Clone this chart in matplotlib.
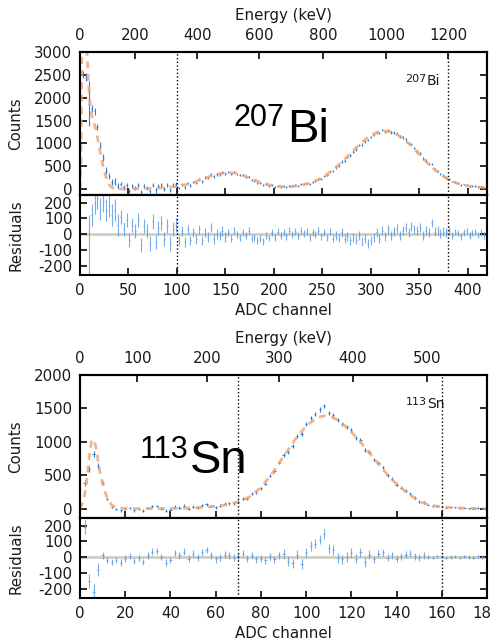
import numpy as np
import matplotlib.pyplot as plt

plt.rcParams['font.family'] = ['DejaVu Sans']
plt.rcParams['axes.unicode_minus'] = False

# ---------------- 207Bi (one point every 3 ADC channels) ----------------
bi_ch = np.arange(0, 421, 3)
bi_counts = [
    1700, 2500, 2450, 1870, 1760, 1700, 1360, 950, 690, 405,
    280, 157, 162, 66, 115, 35, 95, -35, 65, 27,
    98, -61, 61, 31, -47, 95, -31, 61, 94, 0,
    85, -18, 80, 118, 24, 100, 42, 135, 85, 155,
    135, 219, 173, 247, 240, 323, 275, 324, 326, 368,
    340, 367, 324, 371, 338, 300, 312, 271, 274, 197,
    180, 136, 122, 83, 100, 70, 90, 48, 77, 46,
    60, 38, 76, 59, 81, 65, 104, 101, 129, 112,
    160, 175, 230, 225, 290, 305, 385, 400, 475, 510,
    600, 620, 700, 740, 820, 870, 960, 980, 1045, 1070,
    1140, 1187, 1244, 1231, 1288, 1250, 1292, 1240, 1235, 1225,
    1150, 1130, 1090, 1010, 985, 900, 825, 780, 665, 625,
    550, 553, 441, 395, 325, 295, 250, 220, 165, 162,
    125, 90, 100, 95, 55, 63, 65, 38, 49, 24,
    30,
]
bi_resid = [
    -1500, -1500, -1100, -380, 120, 200, 230, 160, 210, 150,
    180, 120, 150, 60, 110, 30, 90, -40, 60, 20,
    90, -70, 50, 20, -60, 80, -50, 40, 70, -30,
    50, -60, 30, 60, -40, 20, -50, 30, -40, 10,
    -30, 30, -40, 10, -20, 40, -30, 0, -10, 20,
    -20, 10, -30, 20, 0, -20, 10, -10, 20, -30,
    -20, -40, -30, -45, -10, -25, 10, -20, 15, -10,
    10, -15, 20, 0, 15, -10, 20, 5, 15, -20,
    10, -5, 20, -15, 10, -20, 15, -30, -10, -25,
    10, -30, -15, -40, -20, -35, -10, -45, -30, -60,
    -40, -20, 10, -30, 20, -15, 30, -10, 15, 35,
    -10, 25, 40, 10, 50, 30, 20, 40, -10, 20,
    10, 70, 15, 25, 5, 15, 10, 20, -10, 15,
    5, -15, 10, 20, -10, 5, 15, -5, 10, -10,
    0,
]
# error bar half-lengths, estimated region by region
bi_err = [80, 80, 80, 500] + [70] * 10 + [45] * 20 + [30] * 17 + [22] * 37 + [28] * 40 + [20] * 13
bi_fit_ch = [0, 1, 2, 3, 4, 5, 6, 7, 8, 9, 10, 11, 12, 14, 16, 18, 20, 22, 24, 26, 28, 30,
             32, 34, 36, 40, 50, 60, 70, 80, 90, 100, 110, 120, 130, 140, 150, 160, 170, 180,
             190, 200, 210, 220, 230, 240, 250, 260, 270, 280, 290, 300, 310, 320, 330, 340,
             350, 360, 370, 380, 390, 400, 410, 420]
bi_fit = [0, 600, 3200, 4000, 4200, 4000, 3600, 3050, 2650, 2250, 1950, 1750, 1620, 1480,
          1330, 1130, 900, 680, 480, 320, 190, 100, 50, 25, 12, 5, 5, 8, 12, 20, 35, 60, 100,
          165, 245, 320, 360, 350, 290, 200, 120, 70, 50, 60, 90, 150, 250, 400, 590, 800,
          1010, 1180, 1270, 1260, 1160, 980, 760, 540, 350, 210, 120, 70, 45, 30]
bi_window = [100, 380]
bi_e_labels = [0, 200, 400, 600, 800, 1000, 1200]
bi_e_pos = [0, 57, 121, 185, 251, 316, 380]   # channel where each energy tick sits

# ---------------- 113Sn (one point every 2 ADC channels) ----------------
sn_ch = np.arange(0, 181, 2)
sn_counts = [
    55, 390, 600, 820, 640, 390, 150, 30, 0, -23,
    -2, 12, -19, 1, -25, 15, 40, 46, 6, -28,
    -12, 34, 21, 47, 4, 35, 19, 53, 73, 44,
    25, 50, 75, 83, 84, 110, 155, 155, 225, 250,
    310, 380, 495, 560, 690, 800, 855, 940, 1085, 1115,
    1270, 1360, 1425, 1485, 1535, 1435, 1410, 1330, 1275, 1225,
    1175, 1065, 1028, 885, 845, 735, 690, 620, 505, 450,
    360, 320, 275, 230, 165, 105, 98, 66, 45, 45,
    35, 20, 22, 23, 9, 17, 10, 4, 13, 7,
    5,
]
sn_resid = [
    55, 190, -150, -220, -80, 10, -20, -30, -20, -35,
    -10, 5, -25, -5, -30, 10, 35, 40, 0, -35,
    -20, 25, 10, 35, -10, 20, 0, 30, 45, 10,
    -15, 0, 15, 10, -5, 5, 20, -10, 10, -15,
    -10, -20, 5, -15, 10, 20, -25, -40, 15, -45,
    30, 70, 85, 110, 145, 55, 45, -5, -15, 0,
    25, -10, 30, -30, 15, -15, 20, 30, -5, 10,
    -10, 5, 15, 20, 5, -5, 10, 0, -5, 5,
    5, -5, 0, 5, -5, 5, 0, -5, 5, 0,
    0,
]
sn_err = [25, 45, 45, 50, 40] + [20] * 20 + [22] * 20 + [30] * 20 + [22] * 12 + [10] * 14
sn_fit_ch = [0, 1, 2, 3, 4, 5, 6, 7, 8, 9, 10, 11, 12, 13, 14, 16, 20, 30, 40, 50, 55, 60,
             65, 70, 75, 80, 85, 90, 95, 100, 105, 108, 111, 115, 120, 125, 130, 135, 140,
             145, 150, 155, 160, 165, 170, 175, 180]
sn_fit = [0, 80, 200, 420, 750, 1000, 1040, 930, 720, 520, 380, 260, 170, 100, 60, 20, 8,
          5, 8, 15, 25, 40, 65, 105, 180, 320, 530, 780, 1030, 1240, 1365, 1390, 1375, 1310,
          1150, 960, 750, 550, 370, 235, 110, 55, 30, 20, 12, 8, 5]
sn_window = [70, 160]
sn_e_labels = [0, 100, 200, 300, 400, 500]
sn_e_pos = [0, 25.3, 56.3, 88.2, 120.6, 153.4]

BLUE = '#2f7fd6'
BLUE_LIGHT = '#5f9fe4'
ORANGE = '#f3a06c'
TXT = '#1a1a1a'


def style_axes(ax):
    for s in ax.spines.values():
        s.set_linewidth(1.5)
    ax.tick_params(direction='in', length=5, width=1.3, labelsize=10.8, colors=TXT, pad=5.5)


def draw_panel(fig, top_px, ch, counts, resid, err, fit_ch, fit, window,
               xmax, xstep, ymax, ymin, e_pos, e_labels, iso_num, iso_sym, big_pos):
    W, H = 490, 641
    left, width = 80 / W, 407 / W
    ax = fig.add_axes([left, 1 - (top_px + 143) / H, width, 143 / H])
    axr = fig.add_axes([left, 1 - (top_px + 223) / H, width, 80 / H])

    # spectrum + fit
    ax.errorbar(ch, counts, yerr=err, xerr=0.5, fmt='none', ecolor=BLUE,
                elinewidth=0.8, zorder=2)
    ax.plot(fit_ch, fit, color=ORANGE, lw=2.0, ls=(0, (2.5, 2)), alpha=0.8, zorder=3)
    for w in window:
        ax.axvline(w, color='k', ls=':', lw=1.0, zorder=4)
    ax.set_xlim(0, xmax)
    ax.set_ylim(ymin, ymax)
    ax.set_yticks(np.arange(0, ymax + 1, 500))
    ax.set_xticks(np.arange(0, xmax + 1, xstep))
    style_axes(ax)
    ax.tick_params(axis='x', top=False, bottom=True, labelbottom=False)
    ax.tick_params(axis='y', left=True, right=True)
    ax.set_ylabel('Counts', fontsize=10.8, color=TXT)
    ax.yaxis.set_label_coords(-0.14, 0.5)

    # energy axis on top
    axt = ax.twiny()
    axt.set_xlim(0, xmax)
    axt.set_xticks(e_pos)
    axt.set_xticklabels([str(e) for e in e_labels])
    style_axes(axt)
    axt.tick_params(axis='x', top=True, bottom=False, pad=6.5)
    axt.set_xlabel('Energy (keV)', fontsize=10.8, color=TXT)
    axt.xaxis.set_label_coords(0.5, 1.225)

    # isotope labels
    ax.text(big_pos[0], big_pos[1], iso_num, transform=ax.transAxes, fontsize=22,
            family='Liberation Sans', ha='left', va='baseline', zorder=5)
    ax.text(big_pos[2], big_pos[3], iso_sym, transform=ax.transAxes, fontsize=34,
            family='Liberation Sans', ha='left', va='baseline', zorder=5)
    ax.text(0.800, 0.790, iso_num, transform=ax.transAxes, fontsize=8,
            ha='left', va='baseline', color=TXT)
    ax.text(0.852, 0.769, iso_sym, transform=ax.transAxes, fontsize=10,
            ha='left', va='baseline', color=TXT)

    # residuals
    axr.axhline(0, color='#cfcfc4', lw=2, zorder=1)
    axr.errorbar(ch, resid, yerr=err, xerr=0.5, fmt='none', ecolor=BLUE_LIGHT,
                 elinewidth=0.8, alpha=0.85, zorder=2)
    for w in window:
        axr.axvline(w, color='k', ls=':', lw=1.0, zorder=4)
    axr.set_xlim(0, xmax)
    axr.set_ylim(-260, 248)
    axr.set_yticks([-200, -100, 0, 100, 200])
    axr.set_xticks(np.arange(0, xmax + 1, xstep))
    style_axes(axr)
    axr.tick_params(axis='x', top=False, bottom=True)
    axr.tick_params(axis='y', left=True, right=True)
    axr.set_ylabel('Residuals', fontsize=10.8, color=TXT)
    axr.yaxis.set_label_coords(-0.14, 0.5)
    axr.set_xlabel('ADC channel', fontsize=10.8, color=TXT)
    axr.xaxis.set_label_coords(0.5, -0.35)


fig = plt.figure(figsize=(4.9, 6.41), dpi=100)

draw_panel(fig, 52, bi_ch, bi_counts, bi_resid, bi_err, bi_fit_ch, bi_fit, bi_window,
           420, 50, 3000, -130, bi_e_pos, bi_e_labels, '207', 'Bi',
           (0.376, 0.4825, 0.5086, 0.3706))
draw_panel(fig, 375, sn_ch, sn_counts, sn_resid, sn_err, sn_fit_ch, sn_fit, sn_window,
           180, 20, 2000, -135, sn_e_pos, sn_e_labels, '113', 'Sn',
           (0.1474, 0.4196, 0.2703, 0.3147))

fig.savefig('out.png', dpi=100)
